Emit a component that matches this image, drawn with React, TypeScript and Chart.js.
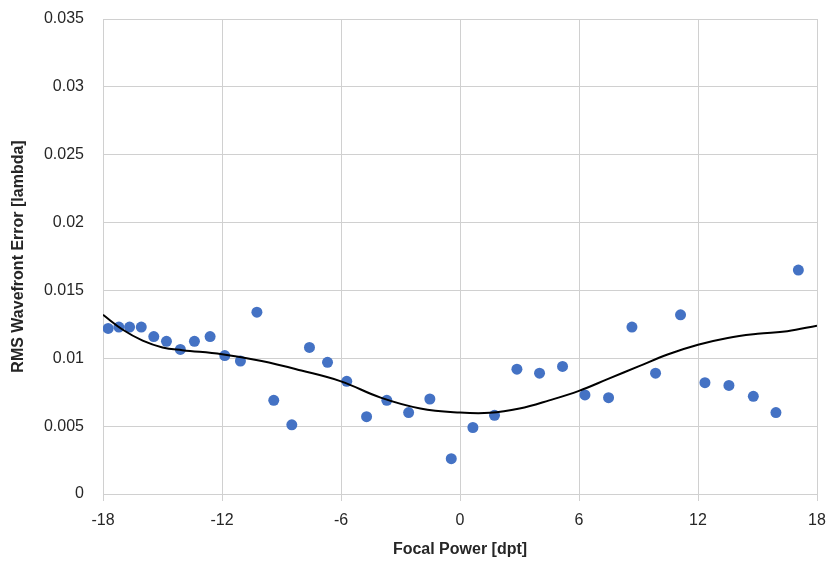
import React, { useEffect, useRef } from "react";
import { Chart, registerables } from "chart.js";

Chart.register(...registerables);

const focalPower = [
  -17.74, -17.2, -16.66, -16.07, -15.44, -14.8, -14.1, -13.39, -12.6, -11.86, -11.07, -10.24, -9.39,
  -8.48, -7.59, -6.68, -5.71, -4.71, -3.69, -2.59, -1.52, -0.44, 0.65, 1.74, 2.87, 4.01, 5.17,
  6.3, 7.49, 8.67, 9.86, 11.12, 12.35, 13.56, 14.79, 15.93, 17.06,
];
const rmsError = [
  0.0122, 0.0123, 0.0123, 0.0123, 0.0116, 0.01125, 0.01065, 0.01125, 0.0116, 0.0102, 0.0098, 0.0134, 0.0069,
  0.0051, 0.0108, 0.0097, 0.0083, 0.0057, 0.0069, 0.006, 0.007, 0.0026, 0.0049, 0.0058, 0.0092, 0.0089, 0.0094,
  0.0073, 0.0071, 0.0123, 0.0089, 0.0132, 0.0082, 0.008, 0.0072, 0.006, 0.0165,
];

const trendX = [
  -18, -17, -16, -15, -14, -12, -10, -8, -6, -4, -2, 0, 1.5, 3, 4.5, 6, 7.5, 9, 10.5, 12, 13.5, 15, 16.5, 18,
];
const trendY = [
  0.0132, 0.0121, 0.0113, 0.0108, 0.0106, 0.0103, 0.0098, 0.0091, 0.0083, 0.0071, 0.0063, 0.006, 0.00598,
  0.0063, 0.0069, 0.0076, 0.0085, 0.0094, 0.0103, 0.011, 0.0115, 0.0118, 0.012, 0.0124,
];

const xTickValues = [-18, -12, -6, 0, 6, 12, 18];
const yTickLabels = ["0", "0.005", "0.01", "0.015", "0.02", "0.025", "0.03", "0.035"];

const GRID = "#d0d0d0";
const FONT = "'Liberation Sans', Arial, sans-serif";

export default function App() {
  const ref = useRef<HTMLCanvasElement | null>(null);

  useEffect(() => {
    if (!ref.current) return;
    const chart = new Chart(ref.current, {
      type: "scatter",
      data: {
        datasets: [
          {
            label: "Trend",
            data: trendX.map((x, i) => ({ x, y: trendY[i] })),
            showLine: true,
            borderColor: "#000000",
            borderWidth: 2,
            pointRadius: 0,
            tension: 0.4,
            order: 0,
          },
          {
            label: "RMS",
            data: focalPower.map((x, i) => ({ x, y: rmsError[i] })),
            backgroundColor: "#4472C4",
            borderColor: "#4472C4",
            pointRadius: 5.5,
            pointBorderWidth: 0,
            order: 1,
          },
        ],
      },
      options: {
        animation: false,
        responsive: true,
        maintainAspectRatio: false,
        layout: { autoPadding: false, padding: { top: 19, right: 14, left: 0, bottom: 0 } },
        plugins: { legend: { display: false }, tooltip: { enabled: false } },
        scales: {
          x: {
            type: "linear",
            min: -18,
            max: 18,
            afterBuildTicks: (scale: any) => {
              scale.ticks = xTickValues.map((v) => ({ value: v }));
            },
            afterFit: (scale: any) => {
              scale.height = 69;
              scale.paddingLeft = 0;
              scale.paddingRight = 0;
            },
            grid: { color: GRID, lineWidth: 1, drawTicks: true, tickLength: 7, tickColor: GRID },
            border: { color: GRID, width: 1 },
            ticks: {
              color: "#262626",
              font: { family: FONT, size: 16 },
              padding: 10,
              maxRotation: 0,
              callback: (v: any) => String(v),
            },
            title: {
              display: true,
              text: "Focal Power [dpt]",
              color: "#262626",
              font: { family: FONT, size: 16, weight: "bold" },
              padding: { top: 0, bottom: 4 },
            },
          },
          y: {
            type: "linear",
            min: 0,
            max: 0.035,
            afterBuildTicks: (scale: any) => {
              scale.ticks = yTickLabels.map((_, i) => ({ value: i * 0.005 }));
            },
            afterFit: (scale: any) => {
              scale.width = 103;
              scale.paddingTop = 0;
              scale.paddingBottom = 0;
            },
            grid: { color: GRID, lineWidth: 1, drawTicks: false },
            border: { color: GRID, width: 1 },
            ticks: {
              color: "#262626",
              font: { family: FONT, size: 16 },
              padding: 19,
              callback: (_v: any, i: number) => yTickLabels[i],
            },
            title: {
              display: true,
              text: "RMS Wavefront Error [lambda]",
              color: "#262626",
              font: { family: FONT, size: 16, weight: "bold" },
              padding: { top: 9, bottom: 0 },
            },
          },
        },
      },
    });
    return () => chart.destroy();
  }, []);

  return (
    <div style={{ position: "fixed", left: 0, top: 0, width: 831, height: 563, background: "#fff" }}>
      <canvas ref={ref} />
    </div>
  );
}
